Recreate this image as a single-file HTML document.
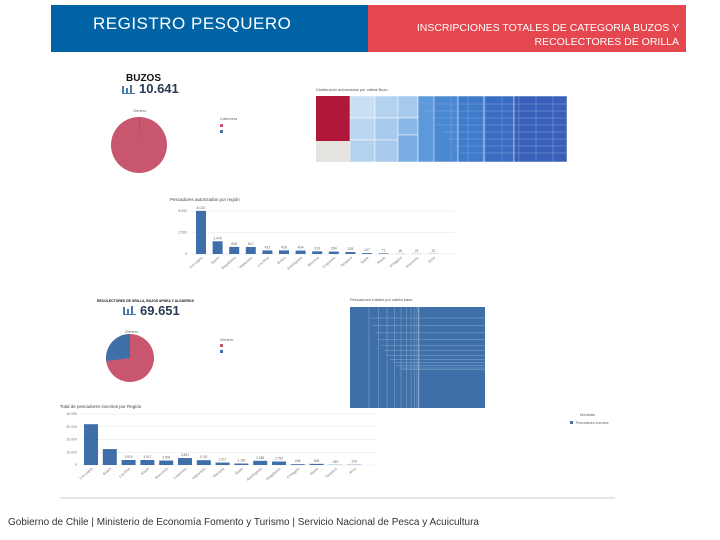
<!DOCTYPE html>
<html><head><meta charset="utf-8"><style>
body{margin:0;width:720px;height:540px;background:#fff;position:relative;overflow:hidden;font-family:"Liberation Sans",sans-serif}
.abs{position:absolute}
</style></head><body>
<div class="abs" style="left:51px;top:5px;width:317px;height:47px;background:#0063a6"></div>
<div class="abs" style="left:93px;top:14px;color:#fff;font-size:17px;letter-spacing:0.5px">REGISTRO PESQUERO</div>
<div class="abs" style="left:368px;top:5px;width:318px;height:47px;background:#e5474e"></div>
<div class="abs" style="left:380px;top:21px;width:299px;text-align:right;color:#fff;font-size:10.5px;line-height:14px">INSCRIPCIONES TOTALES DE CATEGORIA BUZOS Y RECOLECTORES DE ORILLA</div>
<div class="abs" style="left:8px;top:517px;font-size:10px;color:#333">Gobierno de Chile | Ministerio de Economía Fomento y Turismo | Servicio Nacional de Pesca y Acuicultura</div>

<svg class="abs" style="left:0;top:0" width="720" height="540" id="s">
<text x="126" y="81" font-size="10" font-weight="bold" fill="#111">BUZOS</text>
<text x="139" y="93" font-size="13" font-weight="bold" fill="#2a3a55">10.641</text>
<g fill="#4a7ab0"><rect x="122" y="86" width="2" height="7"/><rect x="126" y="88" width="2" height="5"/><rect x="130" y="85" width="2" height="8"/><rect x="122" y="93" width="13" height="1"/></g>
<text x="133" y="112" font-size="4" fill="#666">Genero</text>
<circle cx="139" cy="145" r="28" fill="#c8566e"/>
<path d="M139 145 L139 117 L140 117 Z" fill="#4a6fa0"/>
<text x="220" y="120" font-size="4" fill="#666">Cabecera</text>
<rect x="220" y="124" width="3" height="3" fill="#c8566e"/><rect x="220" y="130" width="3" height="3" fill="#4a6fa0"/>
<text x="316" y="91" font-size="4" fill="#555">Distribución autorizadas por caleta Buzo</text>
<g id="tm1"></g>
<text x="170" y="201" font-size="4.5" fill="#444">Pescadores autorizados por región</text>
<g id="c1"></g>

<text x="97" y="302" font-size="3.4" font-weight="bold" fill="#111">RECOLECTORES DE ORILLA, BUZOS APNEA Y ALGUEROS</text>
<text x="140" y="315" font-size="13" font-weight="bold" fill="#2a3a55">69.651</text>
<g fill="#4a7ab0"><rect x="123" y="307" width="2" height="7"/><rect x="127" y="309" width="2" height="5"/><rect x="131" y="306" width="2" height="8"/><rect x="123" y="314" width="13" height="1"/></g>
<text x="125" y="333" font-size="4" fill="#666">Genero</text>
<circle cx="130" cy="358" r="24" fill="#c8566e"/>
<path d="M130 358 L130 334 A24 24 0 0 0 106.2 361 Z" fill="#3f6fa8"/>
<text x="220" y="341" font-size="4" fill="#666">Genero</text>
<rect x="220" y="344" width="3" height="3" fill="#c8566e"/><rect x="220" y="350" width="3" height="3" fill="#3f6fa8"/>
<text x="350" y="301" font-size="4" fill="#555">Pescadores totales por caleta base</text>
<g id="tm2"></g>
<text x="60" y="408" font-size="4.5" fill="#444">Total de pescadores inscritos por Región</text>
<g id="c2"></g>
<text x="580" y="416" font-size="4" fill="#666">Medidas</text>
<rect x="570" y="421" width="3" height="3" fill="#3f6fa8"/><text x="576" y="424" font-size="3.5" fill="#666">Pescadores Inscritos</text>
<line x1="60" y1="498" x2="615" y2="498" stroke="#ccc" stroke-width="1"/>
</svg>
<script>
const regions1=["Los Lagos","Aysén","Magallanes","Valparaíso","Los Ríos","Biobío","Antofagasta","Atacama","Coquimbo","Tarapacá","Ñuble","Maule","O'Higgins","Araucanía","Arica"];
const values1=[5012,1479,828,817,423,418,404,313,284,228,107,71,18,21,22];
const labels1=["5.012","1.479","828","817","423","418","404","313","284","228","107","71","18","21","22"];
const ticks1=[0,2500,5000];
const regions2=["Los Lagos","Biobío","Los Ríos","Maule","Araucanía","Coquimbo","Valparaíso","Atacama","Ñuble","Antofagasta","Magallanes","O'Higgins","Aysén","Tarapacá","Arica"];
const values2=[32000,12500,3919,3917,3500,5451,3761,1917,1160,3288,2752,648,896,183,229];
const labels2=["","","3.919","3.917","3.500","5.451","3.761","1.917","1.160","3.288","2.752","648","896","183","229"];
const ticks2=[0,10000,20000,30000,40000];
const NS="http://www.w3.org/2000/svg";
function mk(p,t,a){const e=document.createElementNS(NS,t);for(const k in a)e.setAttribute(k,a[k]);p.appendChild(e);return e;}
function bars(g,cats,vals,labs,ticks,x0,step,bw,yb,ht,max,fs){
  const y=v=>yb-v/max*ht;
  ticks.forEach(t=>{mk(g,"line",{x1:x0-10,x2:x0+step*cats.length+5,y1:y(t),y2:y(t),stroke:"#e6e6e6","stroke-width":0.5});
    const tx=mk(g,"text",{x:x0-14,y:y(t)+1,"font-size":3.5,fill:"#777","text-anchor":"end"});tx.textContent=t.toLocaleString("de-DE");});
  cats.forEach((c,i)=>{const cx=x0+step*i;
    const r=mk(g,"rect",{x:cx-bw/2,y:y(vals[i]),width:bw,height:yb-y(vals[i]),fill:"#3f6fa8"});
    
    
    const l=mk(g,"text",{x:cx,y:y(vals[i])-2,"font-size":fs,fill:"#666","text-anchor":"middle"});l.textContent=labs[i];
    const n=mk(g,"text",{x:cx+2,y:yb+4,"font-size":3.5,fill:"#777","text-anchor":"end",transform:`rotate(-40 ${cx+2} ${yb+4})`});n.textContent=c;});
}
bars(document.getElementById("c1"),regions1,values1,labels1,ticks1,201,16.6,10,254,43,5000,3.5);
bars(document.getElementById("c2"),regions2,values2,labels2,ticks2,91,18.8,14,465,51,40000,3.2);
const tm1=document.getElementById("tm1");
mk(tm1,"rect",{x:316,y:96,width:251,height:66,fill:"#3b6cc0"});
mk(tm1,"rect",{x:316,y:96,width:34,height:45,fill:"#b0173a"});
mk(tm1,"rect",{x:316,y:141,width:34,height:21,fill:"#e6e4df"});
[[350,96,25,22,"#c9dff3"],[375,96,23,22,"#b3d2ef"],[398,96,20,22,"#a6c9ec"],[350,118,25,22,"#bad6f1"],[375,118,23,22,"#a8cbed"],[398,118,20,17,"#8ab8e6"],[350,140,25,22,"#b3d2ef"],[375,140,23,22,"#a6c9ec"],[398,135,20,27,"#7aaee2"],[418,96,16,66,"#5d98da"],[434,96,24,66,"#4a88d2"],[458,96,26,66,"#3f7acb"],[484,96,30,66,"#3a6dc2"],[514,96,53,66,"#3a5fb8"]].forEach(a=>mk(tm1,"rect",{x:a[0],y:a[1],width:a[2],height:a[3],fill:a[4],stroke:"#fff","stroke-width":0.5}));
for(let i=0;i<8;i++){mk(tm1,"line",{x1:434+i*17,y1:96,x2:434+i*17,y2:162,stroke:"#8fb4e6","stroke-width":0.4});mk(tm1,"line",{x1:418+i*6,y1:104+i*7,x2:567,y2:104+i*7,stroke:"#8fb4e6","stroke-width":0.4});}
const tm2=document.getElementById("tm2");
mk(tm2,"rect",{x:350,y:307,width:135,height:101,fill:"#3f6fa8"});
for(let i=0;i<12;i++){const x=369+i*(10-i*0.5),y=318+i*(8-i*0.3);
  mk(tm2,"line",{x1:x,y1:307,x2:x,y2:408,stroke:"#9bb8da","stroke-width":0.4});
  mk(tm2,"line",{x1:369+i*3,y1:y,x2:485,y2:y,stroke:"#9bb8da","stroke-width":0.4});}
</script>
</body></html>
